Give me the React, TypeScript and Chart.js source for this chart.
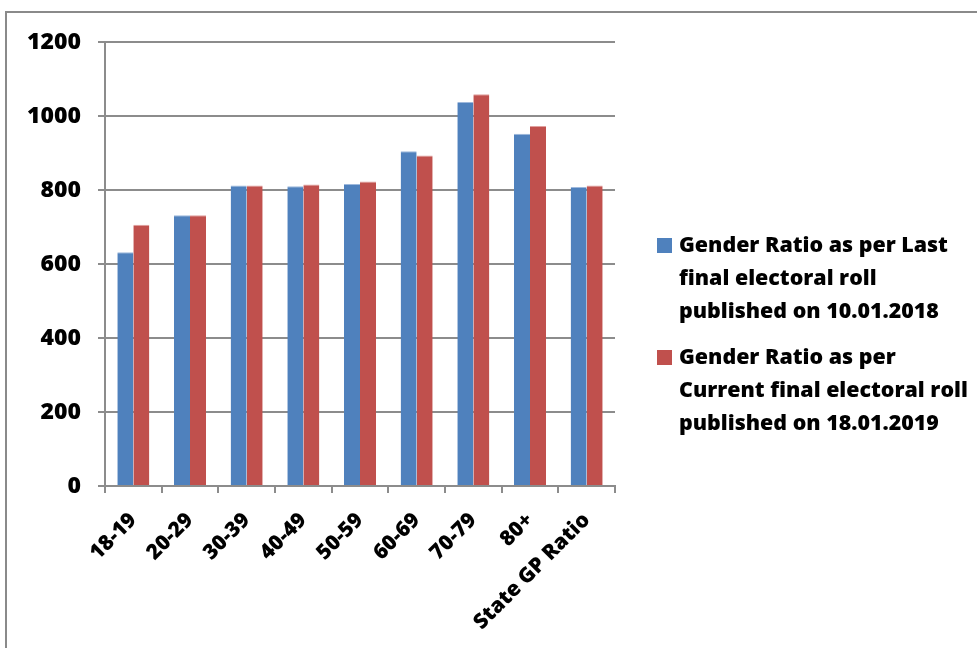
import React, { useEffect, useRef } from "react";
import { Chart, registerables } from "chart.js";

Chart.register(...registerables);

const categories = ["18-19", "20-29", "30-39", "40-49", "50-59", "60-69", "70-79", "80+", "State GP Ratio"];
const lastRoll = [632, 732, 812, 810, 816, 905, 1038, 952, 808];
const currentRoll = [706, 732, 812, 815, 823, 893, 1059, 973, 812];
const seriesLabels = [
  "Gender Ratio as per Last final electoral roll published on 10.01.2018",
  "Gender Ratio as per Current final electoral roll published on 18.01.2019",
];
const legendLines = [
  ["Gender Ratio as per Last", "final electoral roll", "published on 10.01.2018"],
  ["Gender Ratio as per", "Current final electoral roll", "published on 18.01.2019"],
];
const yTicks = [0, 200, 400, 600, 800, 1000, 1200];

const FONT = "'Open Sans', sans-serif";
const BLUE = "#4F81BD";
const RED = "#C0504D";
const GRID = "#8c8c8c";

const legendPlugin = {
  id: "sideLegend",
  afterDraw(chart: any) {
    const ctx = chart.ctx;
    const colors = chart.data.datasets.map((d: any) => d.backgroundColor);
    const startY = [245, 357];
    ctx.save();
    ctx.font = `800 21.4px ${FONT}`;
    ctx.textBaseline = "middle";
    legendLines.forEach((lines, i) => {
      const y0 = startY[i];
      ctx.fillStyle = colors[i];
      ctx.fillRect(657, y0 - 7, 15, 15);
      ctx.fillStyle = "#000";
      lines.forEach((ln, j) => {
        ctx.fillText(ln, 679, y0 + 1 + j * 33);
      });
    });
    ctx.restore();
  },
};

export default function App() {
  const ref = useRef<HTMLCanvasElement>(null);
  useEffect(() => {
    document.body.style.margin = "0";
    const chart = new Chart(ref.current as HTMLCanvasElement, {
      type: "bar",
      data: {
        labels: categories,
        datasets: [
          { label: seriesLabels[0], data: lastRoll, backgroundColor: BLUE, borderColor: "#9db8dc", borderWidth: { top: 1, left: 0, right: 0, bottom: 0 } as any },
          { label: seriesLabels[1], data: currentRoll, backgroundColor: RED, borderColor: "#e0a09e", borderWidth: { top: 1, left: 0, right: 0, bottom: 0 } as any },
        ],
      },
      options: {
        animation: false,
        responsive: false,
        devicePixelRatio: 1,
        layout: { padding: { left: 0, top: 42, right: 362, bottom: 0 } },
        plugins: { legend: { display: false }, tooltip: { enabled: false } },
        datasets: { bar: { categoryPercentage: 0.565, barPercentage: 1 } },
        scales: {
          x: {
            grid: { drawOnChartArea: false, drawTicks: true, tickLength: 7, color: GRID, lineWidth: 2 },
            border: { color: GRID, width: 2 },
            ticks: {
              minRotation: 45,
              maxRotation: 45,
              autoSkip: false,
              color: "#000",
              padding: 15,
              font: { family: FONT, size: 21, weight: 800 as any },
            },
            afterFit(scale: any) {
              scale.height = 162;
            },
          },
          y: {
            min: 0,
            max: 1200,
            afterBuildTicks(scale: any) {
              scale.ticks = yTicks.map((v) => ({ value: v }));
            },
            grid: { color: GRID, lineWidth: 2, tickLength: 7 },
            border: { color: GRID, width: 2 },
            ticks: {
              color: "#000",
              padding: 17,
              font: { family: FONT, size: 23, weight: 800 as any },
              callback: (v: any) => String(v),
            },
            afterFit(scale: any) {
              scale.width = 105;
            },
          },
        },
      },
      plugins: [legendPlugin],
    });
    return () => chart.destroy();
  }, []);
  return (
    <div style={{ position: "relative", width: 977, height: 648, overflow: "hidden", background: "#fff" }}>
      <canvas ref={ref} width={977} height={648} style={{ position: "absolute", left: 0, top: 0 }} />
      <div
        style={{
          position: "absolute",
          left: 5,
          top: 11,
          width: 1200,
          height: 1000,
          borderLeft: "2px solid #8a8a8a",
          borderTop: "2px solid #8a8a8a",
          pointerEvents: "none",
        }}
      />
    </div>
  );
}
